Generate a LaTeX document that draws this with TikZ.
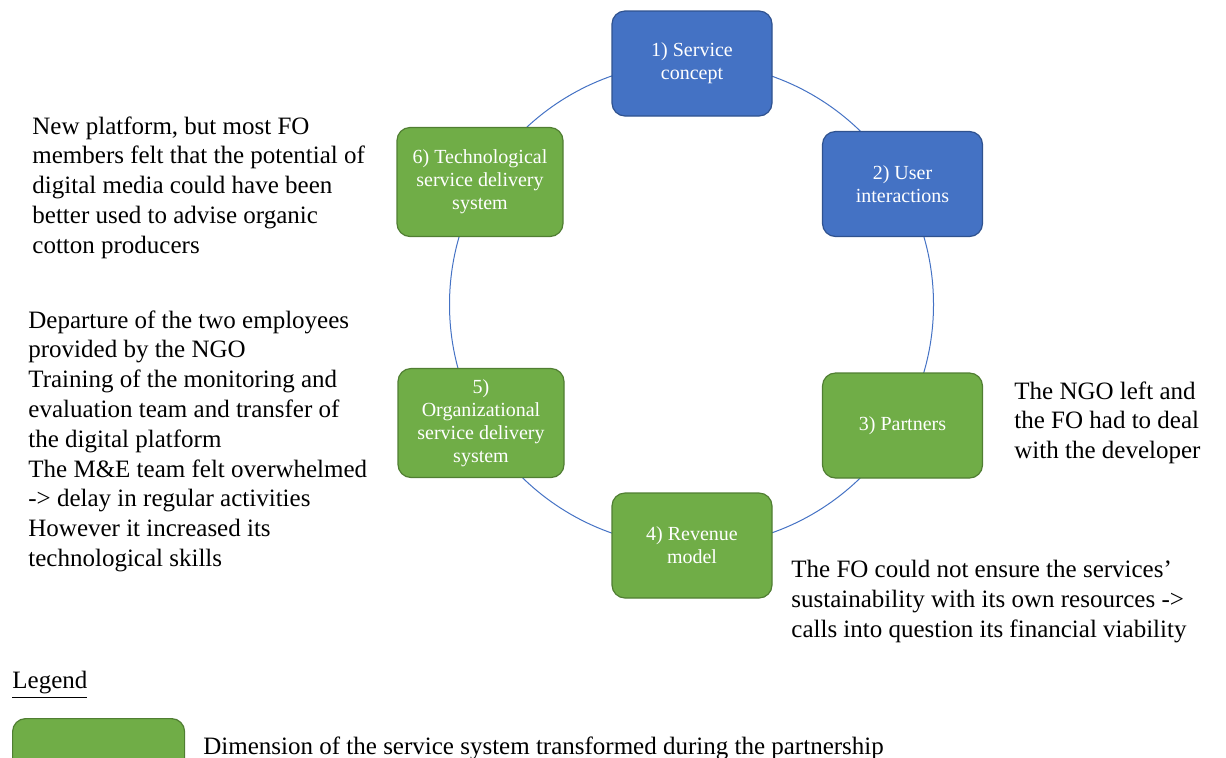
\documentclass[tikz,border=0pt]{standalone}
\usepackage{fontspec}
\setmainfont{LiberationSerif}[
    Extension=.ttf,
    UprightFont=*-Regular,
    BoldFont=*-Bold,
    ItalicFont=*-Italic,
    BoldItalicFont=*-BoldItalic]
\usetikzlibrary{positioning}
\definecolor{boxblue}{HTML}{4472C4}
\definecolor{blueline}{HTML}{2F528F}
\definecolor{boxgreen}{HTML}{70AD47}
\definecolor{greenline}{HTML}{507E32}

\begin{document}
\begin{tikzpicture}[
    x=0.5pt, y=-0.5pt,
    dimension/.style={
        rectangle, rounded corners=6.5pt,
        draw=greenline, fill=boxgreen, line width=0.6pt,
        text=white, align=center, inner sep=1pt,
        minimum width=80pt, minimum height=52.5pt,
        font=\fontsize{10}{11.5}\selectfont
    },
    unchanged/.style={dimension, draw=blueline, fill=boxblue},
    widebox/.style={minimum width=83pt, minimum height=54.5pt},
    ring/.style={draw=boxblue, line width=0.5pt},
    remark/.style={
        align=left, anchor=north west, inner sep=0pt,
        font=\fontsize{12.5}{14.9}\selectfont
    }
]
\useasboundingbox (0,0) rectangle (1226,757);
\clip (0,0) rectangle (1226,757);

% the cycle
\coordinate (hub) at (691.5,304.5);
\draw[ring] (hub) circle[radius=242];

\node[unchanged] (concept) at (692,63.5) {1) Service\\concept};
\node[unchanged] (users) at (902.5,184) {2) User\\interactions};
\node[dimension] (partners) at (902.5,425.5) {3) Partners};
\node[dimension] (revenue) at (692,545.5) {4) Revenue\\model};
\node[dimension, widebox] (orga) at (481,423) {5)\\Organizational\\service delivery\\system};
\node[dimension, widebox] (techno) at (480,182) {6) Technological\\service delivery\\system};

% comments
\node[remark] (note6) at (32,116) {New platform, but most FO\\members felt that the potential of\\digital media could have been\\better used to advise organic\\cotton producers};
\node[remark] (note5) at (28,310) {Departure of the two employees\\provided by the NGO\\Training of the monitoring and\\evaluation team and transfer of\\the digital platform\\The M\&E team felt overwhelmed\\-> delay in regular activities\\However it increased its\\technological skills};
\node[remark] (note3) at (1014,381) {The NGO left and\\the FO had to deal\\with the developer};
\node[remark] (note4) at (791,560) {The FO could not ensure the services’\\sustainability with its own resources ->\\calls into question its financial viability};

% legend
\node[remark] (legend) at (12,671) {\underline{Legend}};
\node[dimension, anchor=north west, minimum width=86pt, minimum height=40pt] (key) at (12,718) {};
\node[remark] (keytext) at (203,736) {Dimension of the service system transformed during the partnership};
\end{tikzpicture}
\end{document}
